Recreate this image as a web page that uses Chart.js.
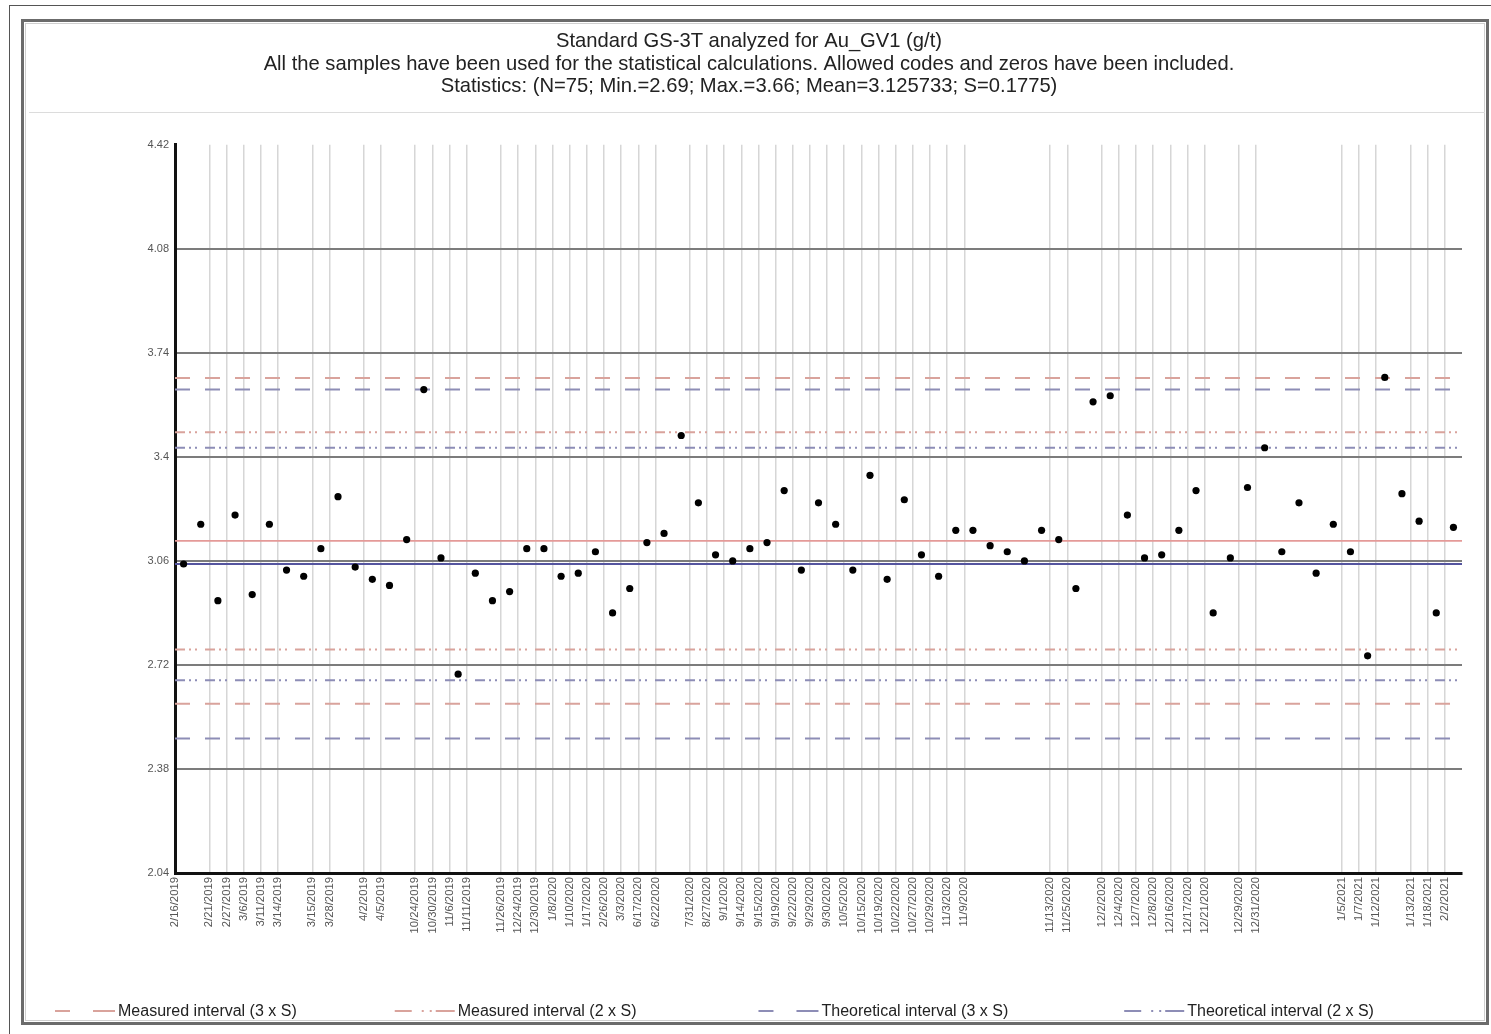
<!DOCTYPE html>
<html>
<head>
<meta charset="utf-8">
<title>Standard GS-3T analyzed for Au_GV1 (g/t)</title>
<script src="https://cdn.jsdelivr.net/npm/chart.js@4.4.1/dist/chart.umd.min.js"></script>
<style>
  html, body { margin: 0; padding: 0; background: #fff; }
  #wrap { position: relative; width: 1491px; height: 1034px; overflow: hidden; }
  .page  { position: absolute; left: 9px; top: 5px; width: 1500px; height: 1050px;
           border-left: 1px solid #555; border-top: 1px solid #555; }
  .panel { position: absolute; left: 21px; top: 19px; width: 1462px; height: 1000px;
           border: 3px solid #6b6b6b; }
  .panel-inner { position: absolute; left: 25px; top: 23px; width: 1458px; height: 996px;
           border: 1px solid #cfcfcf; }
  .sep   { position: absolute; left: 29px; top: 112px; width: 1456px; height: 1px; background: #dcdcdc; }
  #chart { position: absolute; left: 0; top: 0; }
</style>
</head>
<body>
<div id="wrap">
  <div class="page"></div>
  <div class="panel"></div>
  <div class="panel-inner"></div>
  <div class="sep"></div>
  <canvas id="chart" width="1491" height="1034"></canvas>
</div>
<script>
// Sample dates (blank where the date repeats the previous label slot)
const sampleDates = [
  '2/16/2019', '', '2/21/2019', '2/27/2019', '3/6/2019', '3/11/2019', '3/14/2019', '', '3/15/2019', '3/28/2019',
  '', '4/2/2019', '4/5/2019', '', '10/24/2019', '10/30/2019', '11/6/2019', '11/11/2019', '', '11/26/2019',
  '12/24/2019', '12/30/2019', '1/8/2020', '1/10/2020', '1/17/2020', '2/26/2020', '3/3/2020', '6/17/2020', '6/22/2020', '',
  '7/31/2020', '8/27/2020', '9/1/2020', '9/14/2020', '9/15/2020', '9/19/2020', '9/22/2020', '9/29/2020', '9/30/2020', '10/5/2020',
  '10/15/2020', '10/19/2020', '10/22/2020', '10/27/2020', '10/29/2020', '11/3/2020', '11/9/2020', '', '', '',
  '', '11/13/2020', '11/25/2020', '', '12/2/2020', '12/4/2020', '12/7/2020', '12/8/2020', '12/16/2020', '12/17/2020',
  '12/21/2020', '', '12/29/2020', '12/31/2020', '', '', '', '', '1/5/2021', '1/7/2021',
  '1/12/2021', '', '1/13/2021', '1/18/2021', '2/2/2021'
];

// Au_GV1 results for standard GS-3T (g/t), one per sample
const auValues = [
  3.05, 3.18, 2.93, 3.21, 2.95, 3.18, 3.03, 3.01, 3.10, 3.27,
  3.04, 3.00, 2.98, 3.13, 3.62, 3.07, 2.69, 3.02, 2.93, 2.96,
  3.10, 3.10, 3.01, 3.02, 3.09, 2.89, 2.97, 3.12, 3.15, 3.47,
  3.25, 3.08, 3.06, 3.10, 3.12, 3.29, 3.03, 3.25, 3.18, 3.03,
  3.34, 3.00, 3.26, 3.08, 3.01, 3.16, 3.16, 3.11, 3.09, 3.06,
  3.16, 3.13, 2.97, 3.58, 3.60, 3.21, 3.07, 3.08, 3.16, 3.29,
  2.89, 3.07, 3.30, 3.43, 3.09, 3.25, 3.02, 3.18, 3.09, 2.75,
  3.66, 3.28, 3.19, 2.89, 3.17
];

// Statistics of the measured series and the standard's theoretical value
const measuredMean = 3.125733;
const measuredS = 0.1775;
const theoreticalValue = 3.05;
const theoreticalS = 0.19;

// Y-axis tick values (g/t)
const yTicks = [2.04, 2.38, 2.72, 3.06, 3.4, 3.74, 4.08, 4.42];

const titleLines = [
  'Standard GS-3T analyzed for Au_GV1 (g/t)',
  'All the samples have been used for the statistical calculations. Allowed codes and zeros have been included.',
  'Statistics: (N=75; Min.=2.69; Max.=3.66; Mean=3.125733; S=0.1775)'
];

const FONT = "'Liberation Sans', Arial, Helvetica, sans-serif";
const nSamples = auValues.length;

// A pair of horizontal lines across the full x range, split by a gap
function bandLines(center, half) {
  return [
    { x: 0, y: center + half }, { x: nSamples, y: center + half },
    { x: nSamples, y: null },
    { x: 0, y: center - half }, { x: nSamples, y: center - half }
  ];
}
function levelLine(v) {
  return [{ x: 0, y: v }, { x: nSamples, y: v }];
}

const RED = '#d9a39c';
const BLUE = '#8d8db6';
const DASH = [15, 15];
const DASH_DOT_DOT = [10, 4, 2, 4, 2, 8];

const lineBase = { type: 'line', pointRadius: 0, borderWidth: 2, fill: false, spanGaps: false, tension: 0 };

const datasets = [
  {
    type: 'scatter', label: 'Au_GV1',
    data: auValues.map((v, i) => ({ x: i + 0.5, y: v })),
    backgroundColor: '#000', borderColor: '#000', pointRadius: 3.6, pointBorderWidth: 0, order: 0
  },
  Object.assign({}, lineBase, { label: 'Measured interval (3 x S)', legendDash: [15, 23, 22],
    data: bandLines(measuredMean, 3 * measuredS), borderColor: RED, borderDash: DASH, order: 3 }),
  Object.assign({}, lineBase, { label: 'Measured interval (2 x S)', legendDash: [17, 10, 2, 6, 2, 4, 22],
    data: bandLines(measuredMean, 2 * measuredS), borderColor: RED, borderDash: DASH_DOT_DOT, order: 3 }),
  Object.assign({}, lineBase, { label: 'Theoretical interval (3 x S)', legendDash: [15, 23, 22],
    data: bandLines(theoreticalValue, 3 * theoreticalS), borderColor: BLUE, borderDash: DASH, order: 3 }),
  Object.assign({}, lineBase, { label: 'Theoretical interval (2 x S)', legendDash: [17, 10, 2, 6, 2, 4, 22],
    data: bandLines(theoreticalValue, 2 * theoreticalS), borderColor: BLUE, borderDash: DASH_DOT_DOT, order: 3 }),
  Object.assign({}, lineBase, { label: 'Mean', noLegend: true,
    data: levelLine(measuredMean), borderColor: '#e49a98', borderWidth: 1.6, order: 2 }),
  Object.assign({}, lineBase, { label: 'Theoretical value', noLegend: true,
    data: levelLine(theoreticalValue), borderColor: '#55559f', borderWidth: 2.2, order: 2 })
];

// Legend along the bottom of the panel, drawn from the interval datasets
const intervalLegend = {
  id: 'intervalLegend',
  afterDraw(chart) {
    const ctx = chart.ctx;
    const y = 1011;
    const sampleW = 60;
    const gaps = [98, 122, 116];
    let x = 55;
    let n = 0;
    ctx.save();
    ctx.font = '16px ' + FONT;
    ctx.textBaseline = 'middle';
    ctx.textAlign = 'left';
    chart.data.datasets.forEach(ds => {
      if (ds.type !== 'line' || ds.noLegend) return;
      ctx.strokeStyle = ds.borderColor;
      ctx.lineWidth = 2;
      ctx.setLineDash(ds.legendDash);
      ctx.beginPath();
      ctx.moveTo(x, y);
      ctx.lineTo(x + sampleW, y);
      ctx.stroke();
      ctx.setLineDash([]);
      ctx.fillStyle = '#222';
      ctx.fillText(ds.label, x + sampleW + 3, y + 1);
      x += sampleW + 3 + ctx.measureText(ds.label).width + (gaps[n] || 0);
      n++;
    });
    ctx.restore();
  }
};

new Chart(document.getElementById('chart'), {
  data: { datasets },
  options: {
    responsive: false,
    animation: false,
    layout: { padding: { left: 7, right: 0, top: 0, bottom: 41 } },
    plugins: {
      legend: { display: false },
      tooltip: { enabled: false },
      title: {
        display: true,
        text: titleLines,
        color: '#222',
        font: { family: FONT, size: 20.2, weight: 'normal', lineHeight: 1.12 },
        padding: { top: 30, bottom: 47 }
      }
    },
    scales: {
      x: {
        type: 'linear',
        position: 'bottom',
        min: 0,
        max: nSamples,
        afterFit(scale) { scale.height = 120; },
        border: { color: '#111', width: 3 },
        grid: {
          drawTicks: false,
          lineWidth: 1.5,
          color: (c) => (c.tick && c.tick.value > 0 && sampleDates[c.tick.value]) ? '#d6d6d6' : 'rgba(0,0,0,0)'
        },
        ticks: {
          stepSize: 1,
          maxTicksLimit: 200,
          autoSkip: false,
          minRotation: 90,
          maxRotation: 90,
          padding: 4,
          color: '#555',
          font: { family: FONT, size: 11.3 },
          callback: (v) => sampleDates[v] || ''
        }
      },
      y: {
        type: 'linear',
        min: yTicks[0],
        max: yTicks[yTicks.length - 1],
        afterFit(scale) { scale.width = 168; },
        afterBuildTicks(scale) { scale.ticks = yTicks.map(v => ({ value: v })); },
        border: { color: '#111', width: 3 },
        grid: {
          drawTicks: false,
          lineWidth: 2,
          color: (c) => (c.tick && (c.tick.value === yTicks[0] || c.tick.value === yTicks[yTicks.length - 1]))
            ? 'rgba(0,0,0,0)' : '#7c7c7c'
        },
        ticks: {
          padding: 6,
          color: '#555',
          font: { family: FONT, size: 11 },
          callback: (v) => String(v)
        }
      },
      // empty margin to the right of the plot
      yRight: {
        type: 'linear',
        position: 'right',
        afterFit(scale) { scale.width = 29; },
        grid: { display: false, drawTicks: false },
        border: { display: false },
        ticks: { display: false }
      }
    }
  },
  plugins: [intervalLegend]
});
</script>
</body>
</html>
